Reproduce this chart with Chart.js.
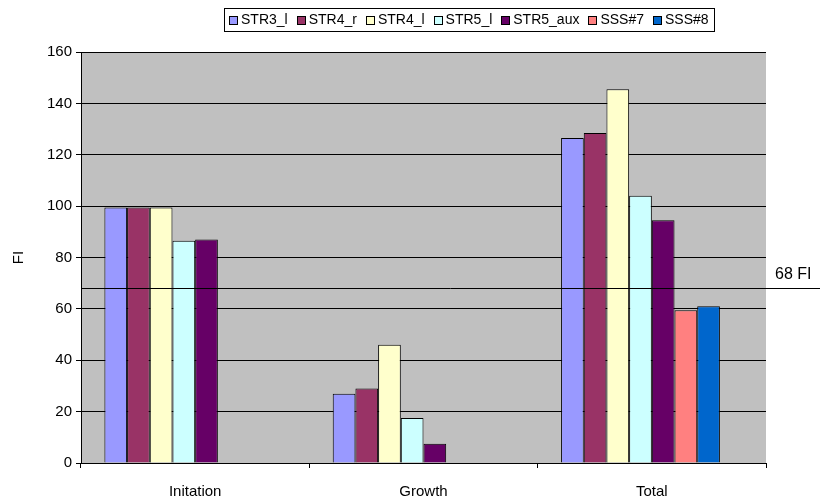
<!DOCTYPE html>
<html>
<head>
<meta charset="utf-8">
<script src="https://cdn.jsdelivr.net/npm/chart.js@4"></script>
<style>
  html, body { margin: 0; padding: 0; background: #ffffff; }
  #wrap { width: 820px; height: 499px; }
</style>
</head>
<body>
<div id="wrap"><canvas id="c" width="820" height="499"></canvas></div>
<script>
// Phases of fatigue life
const categories = ['Initation', 'Growth', 'Total'];

// Fatigue index per specimen series
const str3L   = [99.5, 27.0, 126.5];
const str4R   = [99.5, 29.0, 128.5];
const str4L   = [99.5, 46.0, 145.5];
const str5L   = [86.5, 17.5, 104.0];
const str5Aux = [87.0, 7.5, 94.5];
const sss7    = [null, null, 59.5];
const sss8    = [null, null, 61.0];

const seriesNames  = ['STR3_l', 'STR4_r', 'STR4_l', 'STR5_l', 'STR5_aux', 'SSS#7', 'SSS#8'];
const seriesColors = ['#9999FF', '#993366', '#FFFFCC', '#CCFFFF', '#660066', '#FF8080', '#0066CC'];
const seriesValues = [str3L, str4R, str4L, str5L, str5Aux, sss7, sss8];

// Reference level
const refLevel = 68;
const refLabel = '68 FI';

const yTicks = { min: 0, max: 160, step: 20 };
const FONT = "'Liberation Sans', Arial, sans-serif";
const AXIS_SIZE = 15;
const LEGEND_SIZE = 14;

const datasets = seriesNames.map((name, i) => ({
  label: name,
  data: seriesValues[i],
  backgroundColor: seriesColors[i],
  borderColor: '#000000',
  borderWidth: 1,
  barPercentage: 1.0,
  categoryPercentage: 0.795
}));
// empty slot that keeps the grouped layout of eight columns
datasets.push({
  label: '',
  data: categories.map(() => null),
  backgroundColor: 'rgba(0,0,0,0)',
  borderWidth: 0,
  barPercentage: 1.0,
  categoryPercentage: 0.795
});

const plotBackground = {
  id: 'plotBackground',
  beforeDraw(chart) {
    const { ctx, chartArea: a } = chart;
    ctx.save();
    ctx.fillStyle = '#ffffff';
    ctx.fillRect(0, 0, chart.width, chart.height);
    ctx.fillStyle = '#C0C0C0';
    ctx.fillRect(a.left, a.top, a.right - a.left, a.bottom - a.top);
    ctx.restore();
  }
};

const refLine = {
  id: 'refLine',
  afterDatasetsDraw(chart) {
    const { ctx, chartArea: a } = chart;
    const y = Math.round(chart.scales.y.getPixelForValue(refLevel)) + 0.5;
    ctx.save();
    ctx.strokeStyle = '#000000';
    ctx.lineWidth = 1;
    ctx.beginPath();
    ctx.moveTo(a.left, y);
    ctx.lineTo(chart.width, y);
    ctx.stroke();
    ctx.fillStyle = '#000000';
    ctx.font = '16px ' + FONT;
    ctx.textAlign = 'left';
    ctx.textBaseline = 'bottom';
    ctx.fillText(refLabel, a.right + 9, y - 6);
    ctx.restore();
  }
};

const boxedLegend = {
  id: 'boxedLegend',
  afterDraw(chart) {
    const ctx = chart.ctx;
    ctx.save();
    ctx.font = LEGEND_SIZE + 'px ' + FONT;
    const sw = 9, gapText = 3, gapItem = 9, pad = 5;
    const widths = seriesNames.map(n => ctx.measureText(n).width);
    const inner = widths.reduce((s, w) => s + sw + gapText + w, 0) + gapItem * (seriesNames.length - 1);
    const boxW = inner + pad * 2;
    const boxLeft = 224;
    const boxTop = 8, boxH = 23;
    ctx.fillStyle = '#ffffff';
    ctx.fillRect(boxLeft, boxTop, boxW, boxH);
    ctx.strokeStyle = '#000000';
    ctx.lineWidth = 1;
    ctx.strokeRect(boxLeft + 0.5, boxTop + 0.5, Math.round(boxW), boxH);
    let x = boxLeft + pad;
    const cy = boxTop + boxH / 2 + 0.5;
    seriesNames.forEach((n, i) => {
      const sx = Math.round(x) + 0.5, sy = Math.round(cy - sw / 2) + 0.5;
      ctx.fillStyle = seriesColors[i];
      ctx.fillRect(sx, sy, sw - 1, sw - 1);
      ctx.strokeStyle = '#000000';
      ctx.strokeRect(sx, sy, sw - 1, sw - 1);
      ctx.fillStyle = '#000000';
      ctx.textAlign = 'left';
      ctx.textBaseline = 'middle';
      ctx.fillText(n, x + sw + gapText, cy);
      x += sw + gapText + widths[i] + gapItem;
    });
    ctx.restore();
  }
};

new Chart(document.getElementById('c'), {
  type: 'bar',
  data: { labels: categories, datasets },
  options: {
    responsive: false,
    animation: false,
    devicePixelRatio: 1,
    layout: { padding: { top: 52, right: 54, left: 0, bottom: 0 } },
    plugins: {
      legend: { display: false },
      tooltip: { enabled: false }
    },
    scales: {
      x: {
        offset: true,
        afterFit(s) { s.height = 36; },
        grid: {
          offset: true,
          drawOnChartArea: false,
          drawTicks: true,
          tickLength: 5,
          color: '#000000'
        },
        border: { color: '#000000', width: 1 },
        ticks: { color: '#000000', font: { family: FONT, size: AXIS_SIZE }, padding: 15 }
      },
      y: {
        min: yTicks.min,
        max: yTicks.max,
        afterFit(s) { s.width = 81; },
        ticks: { stepSize: yTicks.step, color: '#000000', font: { family: FONT, size: AXIS_SIZE }, padding: 4 },
        grid: { color: '#000000', tickLength: 5, lineWidth: 1 },
        border: { color: '#000000', width: 1 },
        title: {
          display: true,
          text: 'FI',
          color: '#000000',
          font: { family: FONT, size: AXIS_SIZE },
          padding: { top: 10, bottom: 0 }
        }
      }
    }
  },
  plugins: [plotBackground, refLine, boxedLegend]
});
</script>
</body>
</html>
